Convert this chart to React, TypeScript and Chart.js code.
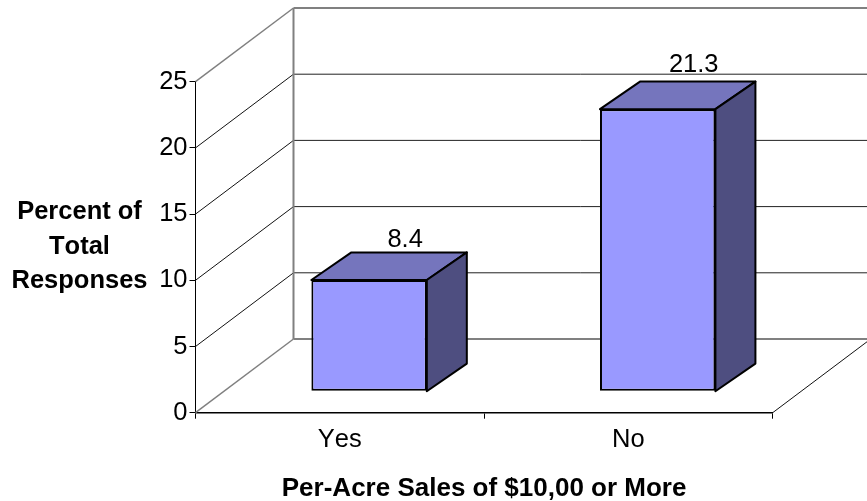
import React, { useEffect, useRef } from "react";
import { Chart, registerables } from "chart.js";

Chart.register(...registerables);

const categories = ["Yes", "No"];
const responses = [8.4, 21.3];
const valueTicks = [0, 5, 10, 15, 20, 25];
const yTitleLines = ["Percent of", "Total", "Responses"];
const xTitle = "Per-Acre Sales of $10,00 or More";

const FONT = '"Liberation Sans", Arial, sans-serif';
const FRONT = "#9999FF";
const TOP = "#7575BD";
const SIDE = "#4E4E80";
const WALL = "#808080";

// Projection of the chart's depth axis on screen.
const DEPTH_X = 98;
const DEPTH_Y = 73.7;
const BAR_SHIFT_X = 29.3; // front face of a bar, measured back from the axis plane
const BAR_SHIFT_Y = 21.5;
const BAR_DEPTH_X = 40; // visible depth of a bar
const BAR_DEPTH_Y = 27.6;
const LABEL_GAPS = [5, 10]; // space between a bar's back edge and its value

const line = (ctx: CanvasRenderingContext2D, x1: number, y1: number, x2: number, y2: number, color: string, width: number) => {
  ctx.beginPath();
  ctx.moveTo(x1, y1);
  ctx.lineTo(x2, y2);
  ctx.strokeStyle = color;
  ctx.lineWidth = width;
  ctx.stroke();
};

const poly = (ctx: CanvasRenderingContext2D, pts: number[][], fill: string) => {
  ctx.beginPath();
  pts.forEach(([x, y], i) => (i ? ctx.lineTo(x, y) : ctx.moveTo(x, y)));
  ctx.closePath();
  ctx.fillStyle = fill;
  ctx.fill();
  ctx.strokeStyle = "#000";
  ctx.lineWidth = 2;
  ctx.lineJoin = "round";
  ctx.stroke();
};

// Text is set without pair kerning throughout the chart.
const textSetupPlugin = {
  id: "textSetup",
  beforeDraw(chart: any) {
    chart.ctx.fontKerning = "none";
  },
};

// Back wall, side wall and floor, laid out from the value scale.
const wallsPlugin = {
  id: "walls",
  beforeDatasetsDraw(chart: any) {
    const { ctx, chartArea, scales } = chart;
    const y = scales.y;
    const backX = chartArea.left + DEPTH_X;
    const backRight = chartArea.right + DEPTH_X;
    ctx.save();
    valueTicks.forEach((v) => {
      const py = y.getPixelForValue(v);
      const edge = v === 0 || v === 25;
      line(ctx, chartArea.left, py, backX, py - DEPTH_Y, edge ? WALL : "#111", edge ? 1.5 : 1);
      line(ctx, backX, py - DEPTH_Y, backRight, py - DEPTH_Y, edge ? WALL : "#222", edge ? 2 : 1);
    });
    const top = y.getPixelForValue(25) - DEPTH_Y;
    const floor = y.getPixelForValue(0) - DEPTH_Y;
    line(ctx, backX, top, backX, floor, WALL, 2);
    line(ctx, chartArea.right, y.getPixelForValue(0), backRight, floor, "#111", 1);
    ctx.restore();
  },
};

// Bars are drawn pushed back onto the floor, with top and side faces added.
const depthBarsPlugin = {
  id: "depthBars",
  beforeDatasetDraw(chart: any) {
    const { ctx, scales } = chart;
    chart.getDatasetMeta(0).data.forEach((bar: any) => {
      const l = bar.x - bar.width / 2 + BAR_SHIFT_X;
      const r = bar.x + bar.width / 2 + BAR_SHIFT_X;
      const t = bar.y - BAR_SHIFT_Y;
      const b = scales.y.getPixelForValue(0) - BAR_SHIFT_Y;
      poly(ctx, [[l, t], [l + BAR_DEPTH_X, t - BAR_DEPTH_Y], [r + BAR_DEPTH_X, t - BAR_DEPTH_Y], [r, t]], TOP);
      poly(ctx, [[r, t], [r + BAR_DEPTH_X, t - BAR_DEPTH_Y], [r + BAR_DEPTH_X, b - BAR_DEPTH_Y], [r, b]], SIDE);
    });
    ctx.save();
    ctx.translate(BAR_SHIFT_X, -BAR_SHIFT_Y);
  },
  afterDatasetDraw(chart: any) {
    const { ctx } = chart;
    ctx.restore();
    ctx.save();
    ctx.font = `25.5px ${FONT}`;
    ctx.fillStyle = "#000";
    ctx.textAlign = "center";
    ctx.textBaseline = "alphabetic";
    chart.getDatasetMeta(0).data.forEach((bar: any, i: number) => {
      const x = bar.x + BAR_SHIFT_X + BAR_DEPTH_X - 4;
      const y = bar.y - BAR_SHIFT_Y - BAR_DEPTH_Y - LABEL_GAPS[i];
      ctx.fillText(String(responses[i]), x, y);
    });
    ctx.restore();
  },
};

// The value-axis caption reads horizontally, so it is set by hand.
const yCaptionPlugin = {
  id: "yCaption",
  afterDraw(chart: any) {
    const { ctx } = chart;
    ctx.save();
    ctx.font = `bold 25.5px ${FONT}`;
    ctx.fillStyle = "#000";
    ctx.textAlign = "center";
    ctx.textBaseline = "middle";
    yTitleLines.forEach((text, i) => ctx.fillText(text, 79.5, 212 + i * 34.5));
    ctx.restore();
  },
};

export default function App() {
  const ref = useRef<HTMLCanvasElement>(null);
  useEffect(() => {
    const chart = new Chart(ref.current!, {
      type: "bar",
      data: {
        labels: categories,
        datasets: [
          {
            data: responses,
            backgroundColor: FRONT,
            borderColor: "#000",
            borderWidth: 2,
            borderSkipped: false,
            categoryPercentage: 0.4,
            barPercentage: 1,
            clip: false,
          } as any,
        ],
      },
      plugins: [textSetupPlugin, wallsPlugin, depthBarsPlugin, yCaptionPlugin],
      options: {
        animation: false,
        responsive: false,
        events: [],
        layout: { padding: { left: 0, right: 94.3, top: 81.7, bottom: 0 } },
        plugins: { legend: { display: false }, tooltip: { enabled: false } },
        scales: {
          x: {
            afterFit: (s: any) => {
              s.height = 88.3;
            },
            grid: { drawOnChartArea: false, tickLength: 6, color: "#000", tickColor: "#000" },
            border: { color: "#000", width: 1.5 },
            ticks: { font: { family: FONT, size: 25.5 }, color: "#000", padding: 6, maxRotation: 0 },
            title: {
              display: true,
              text: xTitle,
              font: { family: FONT, size: 26, weight: "bold" },
              color: "#000",
              padding: { top: 0, bottom: -3 },
            },
          },
          y: {
            min: 0,
            max: 25,
            afterFit: (s: any) => {
              s.width = 195.5;
            },
            grid: { drawOnChartArea: false, tickLength: 6, color: "#000", tickColor: "#000" },
            border: { color: "#000", width: 1 },
            ticks: { stepSize: 5, font: { family: FONT, size: 25.5 }, color: "#000", padding: 2 },
          },
        },
      },
    } as any);
    return () => chart.destroy();
  }, []);
  return (
    <div style={{ position: "absolute", left: 0, top: 0, width: 867, height: 501, background: "#fff", overflow: "hidden" }}>
      <canvas ref={ref} width={867} height={501} style={{ display: "block" }} />
    </div>
  );
}
